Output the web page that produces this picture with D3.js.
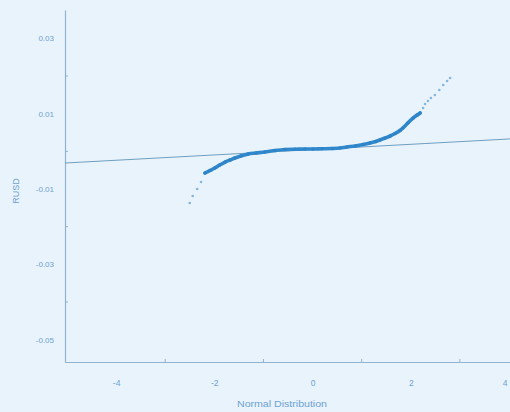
<!DOCTYPE html>
<html><head><meta charset="utf-8">
<script src="https://cdn.jsdelivr.net/npm/d3@7"></script>
<style>html,body{margin:0;padding:0;background:#e9f3fb;}svg{display:block;}</style>
</head><body>
<script>
// Normal quantiles (x) and RUSD sample quantiles (y)
const coreX = [-2.19,-2.09,-1.99,-1.89,-1.78,-1.68,-1.58,-1.46,-1.31,-1.15,-0.97,-0.76,-0.56,-0.36,-0.15,0.01,0.19,0.40,0.56,0.70,0.87,1.03,1.17,1.29,1.37,1.48,1.58,1.68,1.78,1.84,1.94,2.05,2.13,2.19];
const coreY = [-0.00575,-0.00509,-0.00442,-0.00363,-0.00283,-0.00230,-0.00177,-0.00124,-0.00070,-0.00044,-0.00017,0.00023,0.00049,0.00057,0.00062,0.00062,0.00068,0.00076,0.00089,0.00116,0.00142,0.00182,0.00222,0.00262,0.00301,0.00355,0.00408,0.00474,0.00554,0.00620,0.00753,0.00886,0.00965,0.01019];
const tailX = [-2.50,-2.44,-2.35,-2.27,2.25,2.29,2.35,2.41,2.49,2.58,2.66,2.74,2.80];
const tailY = [-0.01372,-0.01186,-0.01000,-0.00814,0.01151,0.01258,0.01337,0.01417,0.01497,0.01629,0.01762,0.01868,0.01948];
// Reference line end points
const refX = [-5.04, 4.02];
const refY = [-0.0031, 0.0033];
const yTickVals = [0.03, 0.01, -0.01, -0.03, -0.05];
const yTickLabels = ["0.03", "0.01", "-0.01", "-0.03", "-0.05"];
const yMinorVals = [0.02, 0.00, -0.02, -0.04];
const xTickVals = [-4, -2, 0, 2, 4];
const xTickLabels = ["-4", "-2", "0", "2", "4"];
const xMinorVals = [-3, -1, 1, 3];
const xTitle = "Normal Distribution";
const yTitle = "RUSD";

const W = 510, H = 412;
const svg = d3.select("body").append("svg").attr("width", W).attr("height", H);
svg.append("rect").attr("width", W).attr("height", H).attr("fill", "#e9f3fb");

const x = d3.scaleLinear().domain([-5.04, 4.02]).range([65, 510]);
const y = d3.scaleLinear().domain([-0.01 - 173/3765, -0.01 + 179/3765]).range([362, 10]);

const axisCol = "#8fb3d1", textCol = "#6da2d4";
const font = "Liberation Sans, Arial, sans-serif";

// axes
const gx = svg.append("g").attr("transform", "translate(0,362)");
gx.call(d3.axisBottom(x).tickValues(xTickVals).tickSize(0).tickPadding(18)
  .tickFormat((d,i) => xTickLabels[i]));
gx.select(".domain").attr("stroke", axisCol).attr("stroke-width", 1.2);
gx.selectAll("text").attr("fill", textCol).attr("font-size", 8.5).attr("font-family", font)
  .attr("text-anchor", d => d === 4 ? "end" : "middle")
  .attr("dx", d => d === 4 ? -2 : 0);
gx.selectAll(".minor").data(xMinorVals).enter().append("line").attr("class","minor")
  .attr("x1", d => x(d)).attr("x2", d => x(d)).attr("y1", 0).attr("y2", -3)
  .attr("stroke", axisCol);

const gy = svg.append("g").attr("transform", "translate(65,0)");
gy.call(d3.axisLeft(y).tickValues(yTickVals).tickSize(0).tickPadding(11)
  .tickFormat((d,i) => yTickLabels[i]));
gy.select(".domain").attr("stroke", axisCol).attr("stroke-width", 1.2);
gy.selectAll("text").attr("fill", textCol).attr("font-size", 8).attr("font-family", font);
gy.selectAll(".minor").data(yMinorVals).enter().append("line").attr("class","minor")
  .attr("y1", d => y(d)).attr("y2", d => y(d)).attr("x1", 0).attr("x2", 3)
  .attr("stroke", axisCol);

// titles
svg.append("text").attr("x", 282).attr("y", 407).attr("text-anchor", "middle")
  .attr("fill", textCol).attr("font-size", 9.5).attr("font-family", font)
  .attr("textLength", 90).attr("lengthAdjust", "spacingAndGlyphs")
  .text(xTitle);
svg.append("text").attr("transform", "translate(19,191) rotate(-90)").attr("text-anchor", "middle")
  .attr("fill", textCol).attr("font-size", 9).attr("font-family", font)
  .text(yTitle);

// reference line
svg.append("line")
  .attr("x1", x(refX[0])).attr("y1", y(refY[0]))
  .attr("x2", x(refX[1])).attr("y2", y(refY[1]))
  .attr("stroke", "#6f9fc2").attr("stroke-width", 1);

// dense core of points
const core = coreX.map((v,i) => [v, coreY[i]]);
svg.append("path").datum(core)
  .attr("d", d3.line().x(d => x(d[0])).y(d => y(d[1])).curve(d3.curveCatmullRom))
  .attr("fill", "none").attr("stroke", "#3189cd").attr("stroke-width", 3.6)
  .attr("stroke-linecap", "round");
svg.selectAll(".pt").data(core).enter().append("circle").attr("class","pt")
  .attr("cx", d => x(d[0])).attr("cy", d => y(d[1])).attr("r", 1.7)
  .attr("fill", "#2f83c6");

// sparse tails
const tails = tailX.map((v,i) => [v, tailY[i]]);
svg.selectAll(".tp").data(tails).enter().append("circle").attr("class","tp")
  .attr("cx", d => x(d[0])).attr("cy", d => y(d[1])).attr("r", 1.3)
  .attr("fill", "#6aa8d8").attr("opacity", 0.8);
</script>
</body></html>
